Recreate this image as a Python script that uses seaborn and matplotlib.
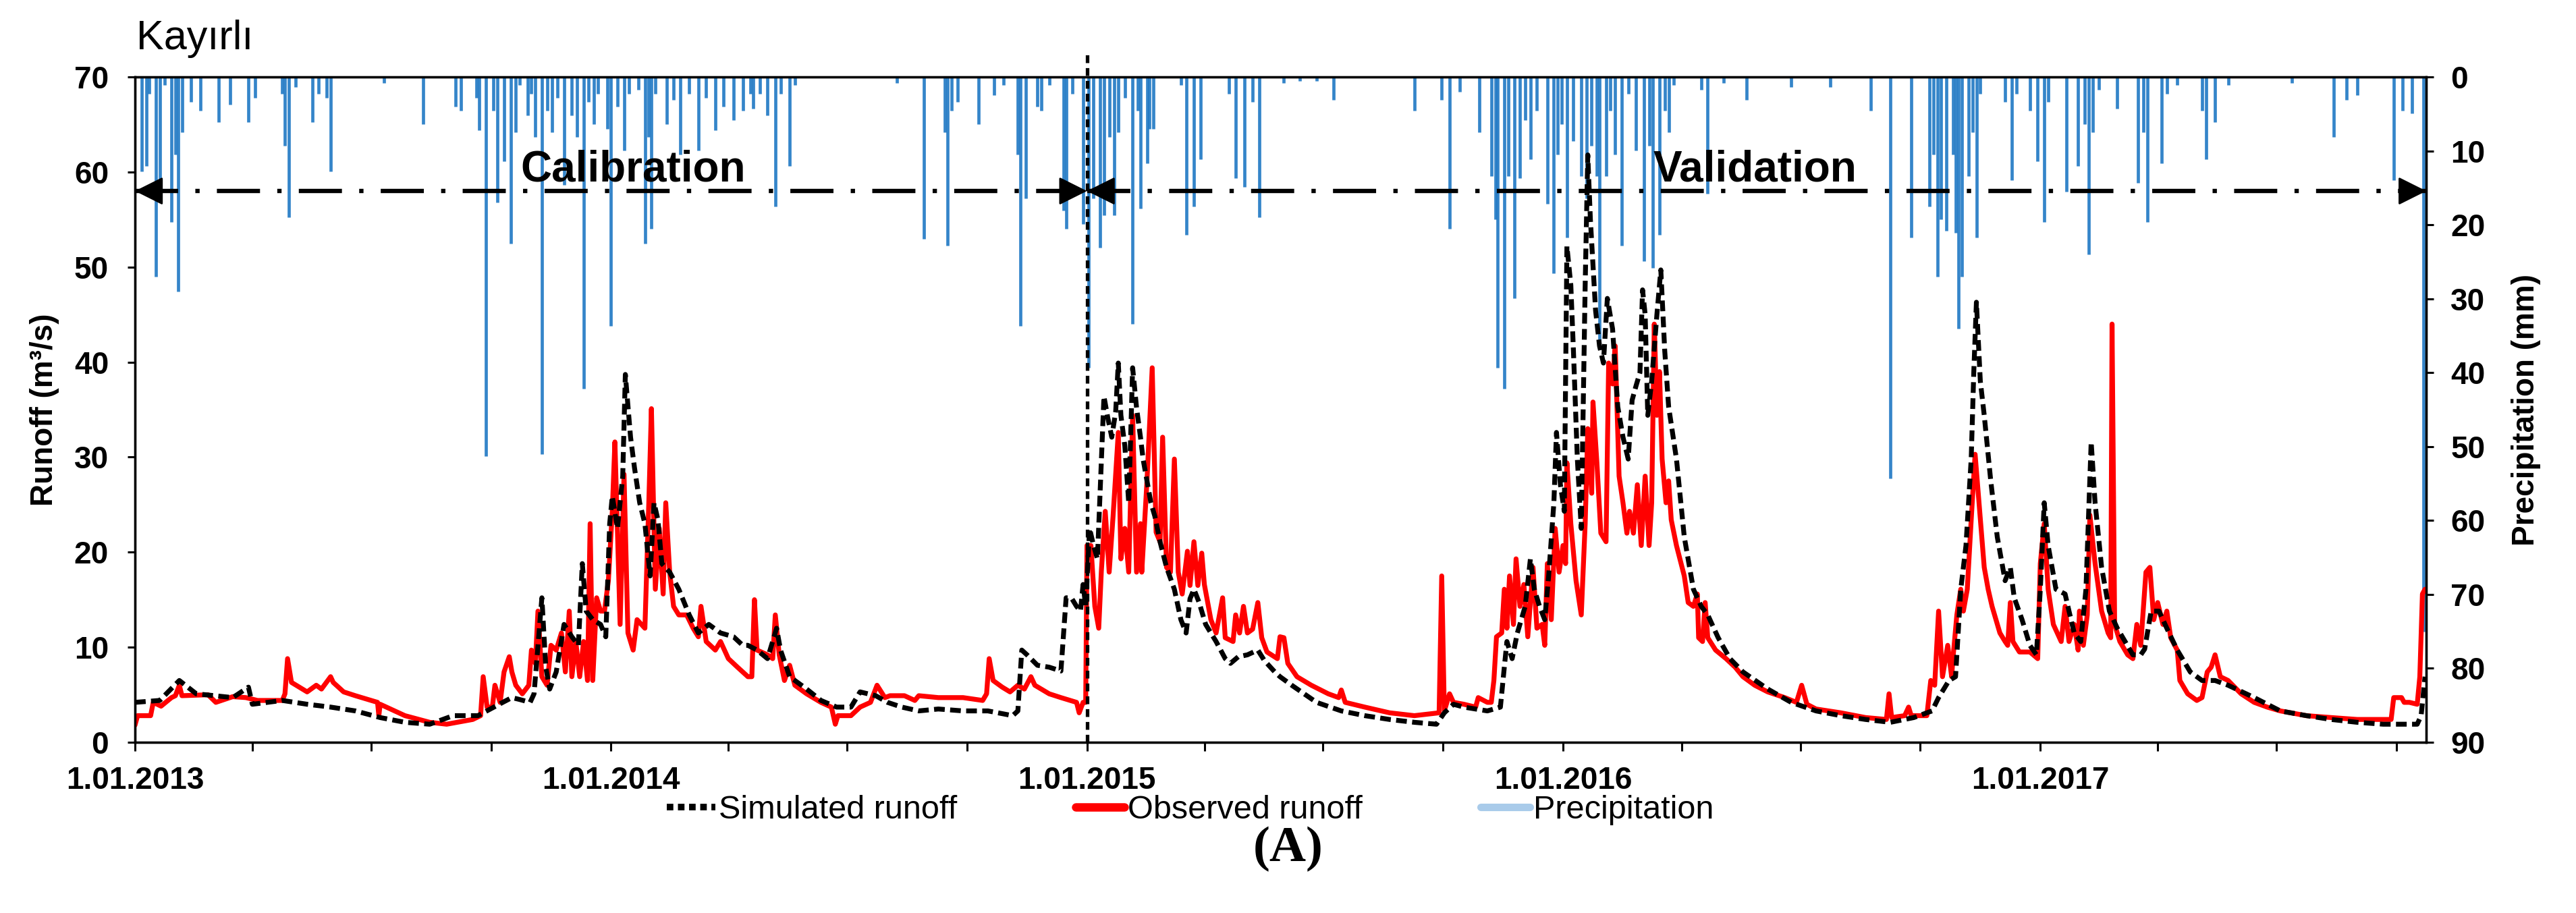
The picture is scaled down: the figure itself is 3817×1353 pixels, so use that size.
import numpy as np
import pandas as pd
import seaborn as sns
import matplotlib.pyplot as plt
import matplotlib.dates as mdates
from matplotlib.lines import Line2D
from matplotlib.ticker import FuncFormatter

# period of the series
start = pd.Timestamp("2013-01-01")
split = pd.Timestamp("2015-01-01")   # end of calibration / start of validation
end = pd.Timestamp("2017-10-24")

# (days since 1.01.2013, m3/s)
observed = [
    (0, 1.8), (2, 2.8), (12, 2.8), (14, 4.2), (20, 3.8), (28, 4.7), (31, 4.9), (34, 6.0), (36, 4.9),
    (56, 5.0), (62, 4.2), (75, 4.8), (85, 4.7), (94, 4.4), (113, 4.4), (115, 5.1), (117, 8.8),
    (120, 6.3), (132, 5.3), (139, 6.0), (143, 5.6), (150, 6.9), (152, 6.3), (160, 5.3), (169, 4.9),
    (186, 4.2), (187, 2.8), (188, 4.0), (207, 2.8), (226, 2.1), (239, 1.9), (259, 2.4), (265, 2.8),
    (267, 6.9), (270, 3.7), (274, 3.7), (276, 6.0), (280, 4.2), (283, 7.4), (287, 9.0),
    (289, 7.4), (292, 6.0), (297, 5.1), (302, 6.0), (304, 9.7), (307, 8.3), (309, 13.8), (312, 6.9),
    (316, 6.0), (319, 10.2), (323, 9.7), (327, 11.5), (330, 7.4), (333, 13.8), (335, 6.9),
    (338, 10.6), (341, 6.9), (344, 10.6), (347, 6.5), (349, 23.0), (351, 6.5), (354, 15.2),
    (357, 13.8), (360, 13.8), (363, 17.0), (366, 24.3), (368, 31.6), (372, 12.4), (375, 28.2),
    (378, 11.5), (382, 9.7), (385, 12.9), (391, 12.0), (394, 25.2), (396, 35.1), (399, 16.1),
    (402, 22.5), (405, 15.6), (407, 25.2), (410, 17.9), (413, 14.3), (417, 13.4), (423, 13.4),
    (428, 12.0), (432, 11.1), (434, 14.3), (438, 10.6), (445, 9.7), (449, 10.6), (455, 8.8),
    (462, 7.9), (470, 6.9), (473, 6.9), (475, 15.0), (477, 9.7), (485, 9.2), (489, 8.8), (491, 13.4),
    (494, 9.2), (498, 6.5), (502, 8.1), (506, 6.0), (515, 5.1), (526, 4.2), (534, 3.7), (537, 1.9),
    (539, 2.8), (549, 2.8), (556, 3.7), (564, 4.2), (569, 6.0), (575, 4.7),
    (579, 4.9), (590, 4.9), (598, 4.4), (601, 4.9), (616, 4.7), (635, 4.7), (650, 4.4), (653, 5.1),
    (655, 8.8), (658, 6.5), (665, 5.8), (671, 5.3), (677, 6.0), (682, 5.6), (687, 6.9), (690, 6.0),
    (701, 5.1), (710, 4.7), (722, 4.2), (724, 3.1), (727, 4.2), (729, 4.2), (730, 20.7), (733, 20.7),
    (736, 14.3), (739, 12.0), (741, 18.0), (744, 24.3), (747, 17.9), (750, 23.8), (754, 32.6),
    (756, 19.3), (759, 22.5), (762, 17.9), (765, 34.4), (768, 17.9), (771, 23.0), (772, 17.9),
    (776, 27.5), (780, 39.4), (783, 22.1), (786, 21.1), (788, 32.1), (791, 18.4), (794, 17.9),
    (797, 29.8), (800, 17.9), (803, 15.6), (807, 20.1), (809, 16.5), (812, 21.1), (815, 16.5),
    (818, 19.9), (820, 16.6), (825, 12.9), (829, 11.5), (834, 15.2), (836, 11.0), (842, 10.6),
    (844, 13.4), (847, 11.5), (850, 14.3), (853, 11.5), (857, 11.9), (861, 14.7), (864, 11.0),
    (868, 9.5), (876, 8.8), (878, 11.1), (881, 11.0), (884, 8.3), (891, 6.9), (902, 6.0), (915, 5.1),
    (923, 4.7), (925, 5.5), (928, 4.2), (943, 3.7), (962, 3.1), (981, 2.8), (1000, 3.1), (1002, 17.5),
    (1004, 3.3), (1008, 5.1), (1011, 4.2), (1019, 4.0), (1028, 3.7), (1030, 4.7), (1037, 4.2),
    (1040, 4.2), (1042, 6.5), (1044, 11.1), (1048, 11.5), (1050, 16.1), (1052, 12.0), (1054, 17.5),
    (1057, 12.4), (1059, 19.3), (1062, 14.3), (1065, 16.6), (1068, 11.1), (1072, 18.4), (1075, 12.0),
    (1079, 12.4), (1081, 10.2), (1083, 18.8), (1086, 12.9), (1089, 22.5), (1092, 17.9), (1095, 20.7),
    (1097, 18.8), (1098, 29.4), (1101, 23.0), (1105, 17.0), (1109, 13.4), (1112, 23.0), (1114, 33.0),
    (1117, 26.2), (1118, 35.8), (1121, 29.4), (1124, 22.0), (1128, 21.1), (1130, 39.9), (1133, 37.7),
    (1135, 41.7), (1138, 28.0), (1141, 25.2), (1144, 22.0), (1146, 24.3), (1149, 22.0), (1152, 27.1),
    (1155, 20.7), (1158, 28.0), (1161, 20.7), (1163, 25.2), (1165, 44.0), (1167, 34.4), (1169, 39.0),
    (1171, 29.8), (1174, 25.2), (1176, 27.5), (1178, 23.4), (1182, 20.7), (1188, 17.5), (1191, 14.7),
    (1195, 14.3), (1198, 15.6), (1199, 11.0), (1202, 10.6), (1204, 14.7), (1206, 11.0), (1212, 9.7),
    (1220, 8.8), (1227, 7.9), (1233, 6.9), (1242, 6.0), (1252, 5.3), (1265, 4.7), (1274, 4.2),
    (1278, 6.0), (1282, 4.0), (1289, 3.5), (1308, 3.1), (1327, 2.6), (1343, 2.4), (1345, 5.1),
    (1347, 2.6), (1357, 2.8), (1360, 3.7), (1362, 2.8), (1374, 2.8), (1377, 6.5), (1380, 6.0),
    (1383, 13.8), (1386, 6.9), (1390, 10.2), (1393, 6.9), (1394, 8.8), (1397, 13.4), (1400, 16.1),
    (1402, 13.8), (1405, 16.1), (1408, 23.4), (1411, 30.3), (1414, 25.2), (1418, 18.4), (1421, 16.1),
    (1424, 14.3), (1430, 11.5), (1434, 10.6), (1436, 10.2), (1438, 14.7), (1440, 10.6), (1445, 9.5),
    (1453, 9.5), (1459, 8.8), (1461, 18.8), (1464, 23.0), (1467, 16.1), (1471, 12.4), (1477, 10.6),
    (1480, 14.3), (1483, 10.6), (1487, 12.4), (1490, 9.7), (1491, 13.8), (1494, 10.2), (1497, 13.4),
    (1499, 23.9), (1503, 18.8), (1508, 13.8), (1513, 11.5), (1515, 11.0), (1516, 44.0), (1518, 12.4),
    (1522, 10.6), (1528, 9.2), (1532, 8.8), (1535, 12.4), (1538, 10.2), (1542, 17.9), (1545, 18.4),
    (1548, 12.9), (1551, 14.7), (1555, 12.4), (1558, 13.8), (1561, 11.0), (1566, 9.7), (1568, 6.5),
    (1574, 5.1), (1581, 4.4), (1585, 4.7), (1589, 7.4), (1592, 7.9), (1595, 9.2), (1599, 6.9),
    (1605, 6.5), (1615, 5.1), (1625, 4.2), (1635, 3.7), (1645, 3.3), (1665, 2.8), (1684, 2.6),
    (1704, 2.4), (1730, 2.4), (1732, 4.7), (1738, 4.7), (1740, 4.2), (1744, 4.2), (1750, 4.0),
    (1752, 6.9), (1754, 15.6), (1756, 16.1),
]

simulated = [
    (0, 4.2), (19, 4.4), (34, 6.5), (47, 5.1), (75, 4.7), (87, 5.8), (90, 4.0), (113, 4.4), (132, 4.0),
    (150, 3.7), (169, 3.3), (188, 2.6), (207, 2.1), (226, 1.9), (244, 2.8), (263, 2.8), (282, 4.2),
    (289, 4.7), (295, 4.5), (303, 4.2), (306, 5.1), (312, 15.2), (315, 7.9), (318, 5.6), (323, 7.4),
    (329, 12.4), (335, 11.1), (340, 10.2), (343, 18.8), (346, 13.8), (351, 12.9), (357, 12.4),
    (361, 11.1), (364, 23.0), (366, 25.9), (370, 22.5), (374, 28.0), (376, 38.7), (380, 32.1),
    (383, 28.9), (387, 25.2), (391, 23.0), (395, 17.5), (398, 25.2), (401, 23.4), (404, 18.8),
    (410, 17.9), (417, 16.1), (425, 13.4), (432, 11.5), (440, 12.4), (449, 11.5), (459, 11.1),
    (466, 10.2), (470, 10.2), (477, 9.7), (485, 8.8), (492, 12.0), (495, 9.7), (502, 6.9), (515, 5.6),
    (526, 4.4), (538, 3.7), (549, 3.7), (556, 5.3), (568, 4.9), (577, 4.2), (588, 3.7), (601, 3.3),
    (616, 3.5), (635, 3.3), (654, 3.3), (673, 2.8), (677, 3.3), (680, 9.7), (684, 9.2), (692, 8.1),
    (701, 7.9), (710, 7.5), (714, 15.2), (718, 15.2), (722, 14.3), (725, 13.8), (727, 16.6),
    (729, 14.3), (732, 22.5), (735, 20.7), (738, 19.3), (740, 26.2), (743, 36.4), (746, 34.1),
    (749, 32.1), (752, 34.8), (754, 39.9), (756, 34.4), (759, 31.2), (762, 25.2), (765, 39.4),
    (768, 35.2), (771, 32.1), (773, 29.8), (776, 27.5), (779, 25.2), (782, 23.8), (786, 21.1),
    (791, 18.4), (797, 16.1), (802, 12.9), (806, 11.5), (809, 15.1), (812, 16.1), (816, 14.7),
    (821, 12.4), (829, 10.6), (836, 8.8), (840, 8.3), (846, 9.0), (853, 9.2), (861, 9.7), (866, 8.6),
    (874, 7.4), (878, 6.9), (887, 6.0), (906, 4.2), (925, 3.3), (943, 2.8), (962, 2.4), (981, 2.1),
    (998, 1.9), (1004, 3.1), (1011, 4.0), (1019, 3.7), (1028, 3.5), (1037, 3.3), (1047, 3.7),
    (1050, 7.9), (1052, 10.6), (1056, 8.8), (1060, 11.5), (1066, 14.3), (1070, 19.3), (1073, 16.1),
    (1077, 14.3), (1081, 12.9), (1084, 17.5), (1088, 25.2), (1090, 32.6), (1093, 27.1), (1096, 24.3),
    (1098, 52.2), (1101, 48.1), (1103, 41.2), (1106, 29.8), (1109, 22.5), (1112, 48.1), (1114, 61.8),
    (1116, 55.0), (1120, 45.4), (1123, 41.7), (1126, 39.9), (1129, 46.7), (1133, 43.5), (1137, 35.3),
    (1141, 32.1), (1145, 29.8), (1148, 36.0), (1151, 37.5), (1154, 38.9), (1156, 47.6), (1158, 45.0),
    (1160, 34.4), (1163, 38.0), (1167, 45.0), (1170, 49.7), (1173, 41.2), (1176, 35.3), (1182, 29.8),
    (1188, 21.6), (1195, 16.1), (1201, 14.3), (1206, 13.4), (1214, 11.0), (1223, 8.8), (1233, 7.4),
    (1252, 5.6), (1270, 4.2), (1289, 3.3), (1308, 2.8), (1327, 2.4), (1346, 2.1), (1364, 2.6),
    (1378, 3.3), (1383, 4.7), (1391, 6.5), (1396, 6.9), (1400, 16.1), (1404, 20.7), (1408, 29.8),
    (1410, 39.0), (1412, 46.3), (1415, 38.0), (1418, 34.4), (1423, 27.5), (1428, 21.6), (1434, 17.0),
    (1438, 18.4), (1441, 15.2), (1447, 12.9), (1453, 10.2), (1458, 9.2), (1461, 16.1), (1464, 25.2),
    (1467, 20.7), (1473, 16.1), (1480, 15.6), (1483, 13.8), (1487, 11.5), (1492, 10.6), (1496, 16.1),
    (1500, 31.6), (1503, 25.2), (1508, 18.4), (1514, 13.8), (1520, 12.0), (1526, 10.6), (1532, 9.2),
    (1538, 9.2), (1541, 9.8), (1546, 13.8), (1552, 13.8), (1558, 12.0), (1566, 9.7), (1576, 7.4),
    (1585, 6.5), (1595, 6.5), (1605, 6.0), (1625, 4.7), (1645, 3.3), (1665, 2.8), (1684, 2.4),
    (1704, 2.1), (1724, 1.9), (1750, 1.9), (1753, 2.8), (1756, 6.9),
]

# (days since 1.01.2013, mm) rain days
precipitation = [
    (5, 12.8), (9, 12.0), (11, 2.3), (16, 27.0), (19, 14.3), (23, 1.1), (28, 19.6), (31, 10.5),
    (33, 29.0), (36, 7.5), (43, 3.4), (50, 4.6), (64, 6.1), (73, 3.7), (87, 6.1), (92, 2.8),
    (113, 2.3), (115, 9.3), (118, 19.0), (123, 1.4), (136, 6.1), (141, 2.3), (147, 2.8), (150, 12.8),
    (191, 0.8), (221, 6.4), (246, 4.0), (250, 4.6), (262, 2.8), (264, 7.2), (269, 51.3), (275, 4.6),
    (278, 17.0), (283, 11.4), (288, 22.5), (292, 7.5), (295, 1.1), (301, 5.2), (304, 2.3), (307, 8.1),
    (312, 51.0), (316, 4.6), (320, 7.5), (324, 2.8), (329, 14.6), (335, 5.2), (339, 8.1), (344, 42.2),
    (348, 3.4), (352, 6.4), (355, 2.3), (362, 7.0), (365, 33.7), (370, 4.0), (375, 9.9), (379, 2.3),
    (386, 1.7), (391, 22.5), (394, 8.1), (396, 20.5), (399, 2.3), (408, 6.4), (413, 3.1), (418, 10.5),
    (425, 2.3), (432, 9.9), (438, 2.8), (445, 7.2), (451, 4.0), (459, 5.8), (466, 4.6), (472, 2.3),
    (474, 4.3), (479, 2.3), (485, 5.2), (491, 17.5), (495, 2.3), (502, 12.0), (506, 1.1),
    (584, 0.8), (605, 21.9), (621, 7.5), (623, 22.8), (626, 4.6), (631, 3.4), (647, 6.4), (659, 2.5),
    (666, 1.1), (677, 10.5), (679, 33.7), (683, 16.4), (692, 4.0), (695, 4.6), (701, 1.1), (712, 18.1),
    (714, 20.5), (719, 2.3), (727, 19.9), (731, 39.3), (735, 16.4), (740, 23.1), (743, 18.7),
    (747, 8.1), (751, 18.7), (754, 7.5), (759, 2.8), (765, 33.4), (769, 4.6), (771, 17.8), (776, 11.7),
    (778, 7.0), (781, 7.0), (802, 1.1), (806, 21.4), (812, 17.5), (817, 11.1), (839, 2.3), (844, 13.7),
    (851, 14.9), (857, 3.4), (862, 19.0), (881, 0.8), (893, 0.5), (906, 0.5), (919, 3.1), (981, 4.6),
    (1002, 3.1), (1008, 20.5), (1016, 2.0), (1031, 7.5), (1040, 13.4), (1043, 19.3), (1045, 39.3),
    (1050, 42.2), (1053, 13.4), (1058, 29.9), (1062, 13.7), (1066, 5.8), (1070, 11.1), (1075, 4.6),
    (1083, 17.2), (1088, 26.6), (1091, 10.5), (1094, 6.4), (1098, 21.7), (1103, 8.7), (1109, 13.4),
    (1113, 16.4), (1117, 9.3), (1121, 13.4), (1123, 35.8), (1128, 13.4), (1131, 4.6), (1135, 10.5),
    (1140, 22.8), (1145, 2.3), (1151, 9.9), (1157, 24.9), (1161, 9.3), (1164, 25.8), (1169, 21.4),
    (1173, 4.6), (1176, 7.5), (1180, 1.1), (1201, 1.7), (1206, 15.8), (1218, 0.8), (1236, 3.1),
    (1270, 1.4), (1300, 1.4), (1331, 4.6), (1346, 54.3), (1362, 21.7), (1376, 17.5), (1379, 10.5),
    (1382, 27.0), (1385, 19.3), (1389, 20.8), (1394, 10.5), (1396, 21.1), (1398, 34.0), (1401, 27.0),
    (1406, 13.4), (1409, 7.5), (1412, 21.7), (1415, 2.3), (1434, 3.4), (1439, 14.0), (1443, 2.3),
    (1453, 4.6), (1459, 11.4), (1464, 19.6), (1467, 3.4), (1481, 15.5), (1490, 12.0), (1495, 6.4),
    (1498, 24.0), (1501, 7.5), (1506, 1.7), (1520, 4.3), (1536, 14.3), (1540, 7.5), (1543, 19.6),
    (1554, 11.7), (1558, 2.3), (1566, 1.1), (1585, 4.6), (1588, 11.1), (1595, 6.1), (1605, 1.1),
    (1654, 0.8), (1686, 8.1), (1696, 3.1), (1704, 2.5), (1732, 14.0), (1739, 4.6), (1746, 4.9),
    (1755, 75.0),
]

period_labels = ["Calibration", "Validation"]
label_days = [382, 1242]
legend_labels = ["Simulated runoff", "Observed runoff", "Precipitation"]


def to_frame(points, col):
    days, vals = zip(*points)
    return pd.DataFrame({"date": start + pd.to_timedelta(list(days), unit="D"), col: vals})


obs = to_frame(observed, "runoff")
sim = to_frame(simulated, "runoff")
rain = to_frame(precipitation, "mm")

sns.set_theme(style="ticks", rc={
    "axes.edgecolor": "black", "axes.linewidth": 1.2,
    "xtick.color": "black", "ytick.color": "black",
    "text.color": "black", "axes.labelcolor": "black",
})
plt.rcParams["font.family"] = ["Liberation Sans", "DejaVu Sans"]

fig, ax = plt.subplots(figsize=(19.085, 6.765), dpi=200)
fig.subplots_adjust(left=0.0524, right=0.9419, top=0.9157, bottom=0.187)

# precipitation hangs from the top on an inverted right axis
ax2 = ax.twinx()
ax2.vlines(rain["date"], 0, rain["mm"], color="#1f78c4", lw=1.7, alpha=0.9)
ax2.set_ylim(90, 0)
ax2.set_yticks(range(0, 91, 10))
ax.set_zorder(ax2.get_zorder() + 1)
ax.patch.set_visible(False)

sns.lineplot(data=obs, x="date", y="runoff", ax=ax, color="red", lw=2.6, legend=False)
sns.lineplot(data=sim, x="date", y="runoff", ax=ax, color="black", lw=2.6,
             linestyle=(0, (2.2, 1.1)), legend=False)

ax.set_xlim(start, end)
ax.set_ylim(0, 70)
ax.set_yticks(range(0, 71, 10))

# calibration / validation arrows
arrow_y = 58
dashdot = (0, (10, 4, 1, 4))
ax.plot([start, split], [arrow_y, arrow_y], color="black", lw=2.3, linestyle=dashdot)
ax.plot([split, end], [arrow_y, arrow_y], color="black", lw=2.3, linestyle=dashdot)
for tip, tail in [(start, start + pd.Timedelta(days=18)), (split, split - pd.Timedelta(days=18)),
                  (split, split + pd.Timedelta(days=18)), (end, end - pd.Timedelta(days=18))]:
    ax.annotate("", xy=(mdates.date2num(tip), arrow_y), xytext=(mdates.date2num(tail), arrow_y),
                arrowprops=dict(arrowstyle="-|>", color="black", lw=1.0, mutation_scale=33,
                                shrinkA=0, shrinkB=0), annotation_clip=False)
for name, d in zip(period_labels, label_days):
    ax.text(start + pd.Timedelta(days=d), 59.0, name, ha="center", va="baseline",
            fontsize=23, fontweight="bold")

ax.plot([split, split], [0, 72.5], color="black", lw=1.9, linestyle=(0, (2.2, 1.4)), clip_on=False)

# axes formatting
ax.xaxis.set_major_locator(mdates.YearLocator())
ax.xaxis.set_minor_locator(mdates.MonthLocator(bymonth=[4, 7, 10]))
ax.xaxis.set_major_formatter(FuncFormatter(
    lambda v, p: "{0.day}.{0.month:02d}.{0.year}".format(mdates.num2date(v))))
ax.tick_params(axis="x", which="both", length=4.5, width=1.1, pad=8, labelsize=16.5)
ax.tick_params(axis="y", length=4, width=1.1, pad=10, labelsize=16.5)
ax2.tick_params(axis="y", length=4, width=1.1, pad=9, labelsize=16.5)
ax.set_xlabel("")
ax.set_ylabel("Runoff (m³/s)", fontsize=16.5, fontweight="bold", labelpad=8)
ax2.set_ylabel("Precipitation (mm)", fontsize=16.5, fontweight="bold", labelpad=14)
for lab in ax.get_xticklabels() + ax.get_yticklabels() + ax2.get_yticklabels():
    lab.set_fontweight("bold")
for a in (ax, ax2):
    for s in a.spines.values():
        s.set_visible(True)
        s.set_color("black")
        s.set_linewidth(1.2)

fig.text(0.053, 0.946, "Kayırlı", fontsize=22, ha="left", va="baseline")

handles = [
    Line2D([], [], color="black", lw=3.5, linestyle=(0, (1, 0.7))),
    Line2D([], [], color="red", lw=4.5),
    Line2D([], [], color="#a9cbea", lw=4),
]
fig.legend(handles, legend_labels, loc="center", bbox_to_anchor=(0.462, 0.113), ncol=3,
           frameon=False, fontsize=17.5, handlelength=1.5, handletextpad=0.1, columnspacing=3.6)

fig.text(0.5, 0.07, "(A)", ha="center", va="center", fontsize=27, fontweight="bold",
         family=["Liberation Serif", "DejaVu Serif"])

fig.savefig("out.png", dpi=200)
